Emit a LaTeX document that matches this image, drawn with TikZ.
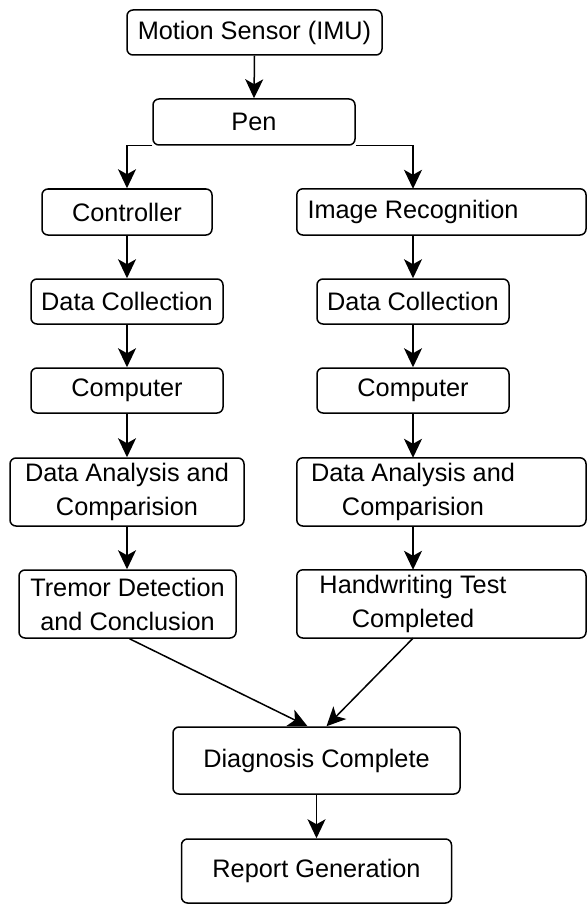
\documentclass[tikz,border=0pt]{standalone}
\usepackage{fontspec}
\setmainfont{Liberation Sans}
\usetikzlibrary{arrows.meta,calc}
\begin{document}
\begin{tikzpicture}[x=1pt,y=-1pt,
  frame/.style={draw=black,line width=1.5pt,rounded corners=6pt},
  box/.style={frame,inner sep=0pt,align=center,
    font=\fontsize{25.3}{34}\selectfont,text=black},
  ghost/.style={draw=none,inner sep=0pt,align=center,
    font=\fontsize{25.3}{34}\selectfont,text=black},
  conn/.style={line width=1.5pt,-{Stealth[length=19pt,width=18pt,inset=5pt]}}]
\useasboundingbox (0,0) rectangle (587,904);
\node[box,minimum width=255pt,minimum height=45pt] (motion) at (254.5,32.5) {Motion Sensor (IMU)};
\node[box,minimum width=202pt,minimum height=46pt] (pen) at (254,122) {Pen};
\node[box,minimum width=170pt,minimum height=46pt] (ctrl) at (127,212) {Controller};
\node[ghost,minimum width=232pt,minimum height=46pt] (imgrec) at (413,212) {Image Recognition};
\node[box,minimum width=192pt,minimum height=45pt] (dcl) at (127,301.5) {Data Collection};
\node[box,minimum width=192pt,minimum height=45pt] (dcr) at (413,301.5) {Data Collection};
\node[box,minimum width=192pt,minimum height=45pt] (cpl) at (127,390.5) {Computer};
\node[box,minimum width=192pt,minimum height=45pt] (cpr) at (413,390.5) {Computer};
\node[box,minimum width=234pt,minimum height=68pt] (dal) at (127,492) {Data Analysis and\\Comparision};
\node[ghost,minimum width=232pt,minimum height=68pt] (dar) at (413,492) {Data Analysis and\\Comparision};
\node[box,minimum width=217pt,minimum height=68pt] (trem) at (127.5,604) {Tremor Detection\\and Conclusion};
\node[ghost,minimum width=232pt,minimum height=68pt] (hand) at (413,604) {Handwriting Test\\Completed};
\node[box,minimum width=287pt,minimum height=67pt] (diag) at (316.5,760.5) {Diagnosis Complete};
\node[box,minimum width=270pt,minimum height=64pt] (rep) at (316.5,871) {Report Generation};

% wide right-hand frames running to the page edge
\draw[frame] (imgrec.north west) rectangle (586,235);
\draw[frame] (dar.north west) rectangle (586,526);
\draw[frame] (hand.north west) rectangle (586,638);

\draw[conn] (motion.south) -- (pen.north);
\draw[conn] (pen.south west) -| (ctrl.north);
\draw[conn] (pen.south east) -| (imgrec.north);
\draw[conn] (ctrl.south) -- (dcl.north);
\draw[conn] (imgrec.south) -- (dcr.north);
\draw[conn] (dcl.south) -- (cpl.north);
\draw[conn] (dcr.south) -- (cpr.north);
\draw[conn] (cpl.south) -- (dal.north);
\draw[conn] (cpr.south) -- (dar.north);
\draw[conn] (dal.south) -- (trem.north -| dal);
\draw[conn] (dar.south) -- (hand.north);
\draw[conn] ($(trem.south)+(2,0)$) -- ($(diag.north)+(-9,0)$);
\draw[conn] (hand.south) -- ($(diag.north)+(10,0)$);
\draw[conn] (diag.south) -- (rep.north);
\end{tikzpicture}
\end{document}
